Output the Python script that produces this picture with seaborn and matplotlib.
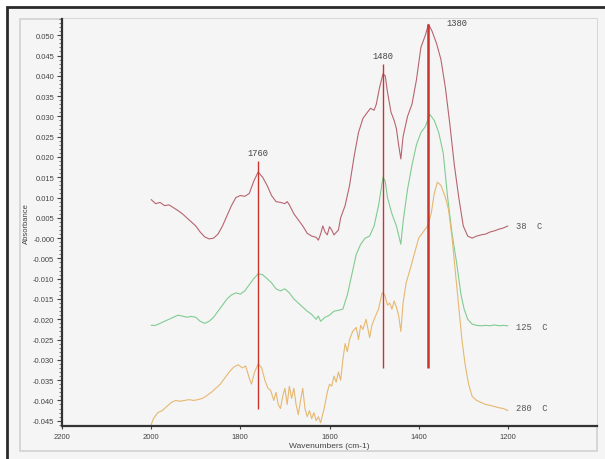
import numpy as np
import pandas as pd
import matplotlib.pyplot as plt
import seaborn as sns
from matplotlib.patches import Rectangle
from matplotlib.ticker import MultipleLocator

# spectra (wavenumber cm-1, absorbance)
wn_38 = [2000, 1990, 1980, 1970, 1960, 1950, 1940, 1930, 1920, 1910, 1900, 1890, 1880, 1870, 1860,
         1850, 1840, 1830, 1820, 1810, 1800, 1790, 1780, 1770, 1760, 1750, 1740, 1730, 1720, 1710,
         1700, 1695, 1690, 1680, 1670, 1660, 1650, 1640, 1630, 1625, 1620, 1615, 1610, 1605, 1600,
         1595, 1590, 1580, 1575, 1565, 1555, 1545, 1535, 1525, 1515, 1508, 1500, 1495, 1488, 1480,
         1475, 1470, 1462, 1455, 1450, 1445, 1440, 1435, 1425, 1415, 1405, 1395, 1385, 1378, 1370,
         1360, 1350, 1340, 1330, 1320, 1310, 1300, 1290, 1280, 1270, 1260, 1250, 1240, 1230, 1220,
         1210, 1200]
abs_38 = [0.0095, 0.0085, 0.0088, 0.0080, 0.0082, 0.0075, 0.0068, 0.0060, 0.0050, 0.0040, 0.0030,
          0.0015, 0.0003, -0.0002, 0.0000, 0.0010, 0.0030, 0.0055, 0.0080, 0.0100, 0.0105, 0.0103,
          0.0110, 0.0140, 0.0163, 0.0150, 0.0130, 0.0105, 0.0090, 0.0088, 0.0085, 0.0090, 0.0082,
          0.0060, 0.0045, 0.0030, 0.0012, 0.0005, 0.0002, -0.0005, 0.0010, 0.0030, 0.0015, 0.0008,
          0.0028, 0.0020, 0.0008, 0.0020, 0.0050, 0.0080, 0.0130, 0.0200, 0.0260, 0.0295, 0.0310,
          0.0320, 0.0315, 0.0330, 0.0370, 0.0405, 0.0400, 0.0360, 0.0310, 0.0290, 0.0270, 0.0230,
          0.0195, 0.0250, 0.0300, 0.0330, 0.0390, 0.0470, 0.0500, 0.0527, 0.0510, 0.0480, 0.0440,
          0.0370, 0.0280, 0.0180, 0.0100, 0.0030, 0.0005, 0.0000, 0.0005, 0.0008, 0.0010, 0.0015,
          0.0018, 0.0022, 0.0025, 0.0030]

wn_125 = [2000, 1990, 1980, 1970, 1960, 1950, 1940, 1930, 1920, 1910, 1900, 1890, 1880, 1870, 1860,
          1850, 1840, 1830, 1820, 1810, 1800, 1790, 1780, 1770, 1760, 1750, 1740, 1730, 1720, 1710,
          1700, 1690, 1680, 1670, 1660, 1650, 1640, 1630, 1625, 1620, 1610, 1600, 1590, 1580, 1570,
          1560, 1550, 1540, 1530, 1520, 1510, 1500, 1490, 1480, 1475, 1470, 1460, 1450, 1440, 1435,
          1425, 1415, 1405, 1395, 1385, 1375, 1365, 1355, 1345, 1335, 1325, 1315, 1305, 1298, 1290,
          1280, 1270, 1260, 1250, 1240, 1230, 1220, 1210, 1200]
abs_125 = [-0.0215, -0.0215, -0.0210, -0.0205, -0.0200, -0.0195, -0.0190, -0.0192, -0.0195, -0.0193,
           -0.0195, -0.0205, -0.0210, -0.0205, -0.0195, -0.0180, -0.0165, -0.0150, -0.0140, -0.0135,
           -0.0138, -0.0130, -0.0115, -0.0100, -0.0088, -0.0090, -0.0100, -0.0110, -0.0125, -0.0130,
           -0.0125, -0.0135, -0.0150, -0.0160, -0.0170, -0.0180, -0.0188, -0.0200, -0.0192, -0.0205,
           -0.0195, -0.0190, -0.0180, -0.0178, -0.0175, -0.0140, -0.0090, -0.0040, -0.0015, 0.0000,
           0.0005, 0.0030, 0.0080, 0.0150, 0.0140, 0.0100, 0.0060, 0.0030, -0.0015, 0.0040, 0.0120,
           0.0180, 0.0230, 0.0260, 0.0275, 0.0305, 0.0290, 0.0260, 0.0210, 0.0100, 0.0010, -0.0060,
           -0.0140, -0.0175, -0.0200, -0.0212, -0.0215, -0.0216, -0.0215, -0.0216, -0.0214, -0.0216,
           -0.0215, -0.0216]

wn_280 = [2000, 1995, 1985, 1975, 1965, 1955, 1945, 1935, 1925, 1915, 1905, 1895, 1885, 1875, 1865,
          1855, 1845, 1835, 1825, 1815, 1805, 1795, 1788, 1780, 1775, 1768, 1760, 1752, 1745, 1738,
          1732, 1725, 1720, 1715, 1710, 1705, 1700, 1695, 1690, 1685, 1680, 1675, 1670, 1665, 1660,
          1655, 1650, 1645, 1640, 1635, 1630, 1625, 1620, 1612, 1605, 1600, 1595, 1590, 1585, 1580,
          1575, 1570, 1565, 1560, 1555, 1548, 1540, 1535, 1530, 1525, 1518, 1510, 1505, 1498, 1490,
          1482, 1476, 1470, 1465, 1460, 1455, 1450, 1445, 1440, 1435, 1428, 1420, 1410, 1400, 1390,
          1380, 1372, 1365, 1358, 1350, 1340, 1333, 1325, 1318, 1310, 1303, 1296, 1288, 1280, 1270,
          1260, 1250, 1240, 1230, 1220, 1210, 1200]
abs_280 = [-0.0460, -0.0445, -0.0430, -0.0425, -0.0415, -0.0405, -0.0400, -0.0402, -0.0400, -0.0398,
           -0.0400, -0.0398, -0.0395, -0.0388, -0.0380, -0.0370, -0.0360, -0.0345, -0.0330, -0.0318,
           -0.0312, -0.0320, -0.0315, -0.0345, -0.0360, -0.0330, -0.0310, -0.0320, -0.0350, -0.0370,
           -0.0375, -0.0400, -0.0380, -0.0410, -0.0420, -0.0390, -0.0370, -0.0410, -0.0365, -0.0395,
           -0.0370, -0.0410, -0.0435, -0.0400, -0.0370, -0.0420, -0.0440, -0.0425, -0.0445, -0.0430,
           -0.0450, -0.0440, -0.0455, -0.0420, -0.0380, -0.0360, -0.0365, -0.0340, -0.0355, -0.0330,
           -0.0350, -0.0300, -0.0260, -0.0280, -0.0250, -0.0230, -0.0220, -0.0250, -0.0215, -0.0225,
           -0.0200, -0.0245, -0.0215, -0.0195, -0.0175, -0.0135, -0.0140, -0.0165, -0.0160, -0.0175,
           -0.0155, -0.0170, -0.0190, -0.0230, -0.0160, -0.0110, -0.0080, -0.0040, 0.0000, 0.0015,
           0.0030, 0.0060, 0.0110, 0.0138, 0.0130, 0.0100, 0.0070, 0.0000, -0.0080, -0.0170, -0.0250,
           -0.0310, -0.0360, -0.0390, -0.0400, -0.0405, -0.0410, -0.0412, -0.0415, -0.0418, -0.0420,
           -0.0425]

series = ['38  C', '125  C', '280  C']
colors = ['#b8646f', '#80cc90', '#e6b870']
label_y = [0.0032, -0.0218, -0.0418]

# marked peaks
peak_wn = [1760, 1480, 1380]
peak_top = [0.0190, 0.0429, 0.0527]
peak_bottom = [-0.0420, -0.0320, -0.0320]
peak_text_x = [1760, 1480, 1315]
peak_text_y = [0.0200, 0.0440, 0.0520]

df = pd.concat([
    pd.DataFrame({'wn': wn_38, 'abs': abs_38, 'temp': series[0]}),
    pd.DataFrame({'wn': wn_125, 'abs': abs_125, 'temp': series[1]}),
    pd.DataFrame({'wn': wn_280, 'abs': abs_280, 'temp': series[2]}),
])

bg = '#f5f5f5'
sns.set_style('white', {'axes.facecolor': bg})
plt.rcParams['font.family'] = ['Liberation Sans', 'DejaVu Sans']

fig = plt.figure(figsize=(6.05, 4.6), dpi=100, facecolor='white')
W, H = 605, 460
# outer dark frame (top and left only visible) and inner light frame
fig.patches.append(Rectangle((7 / W, -0.5), 2.0, 1.5 - 8 / H, transform=fig.transFigure,
                             facecolor=bg, edgecolor='#2a2a2a', linewidth=2.0, zorder=-2))
fig.patches.append(Rectangle((20 / W, 1 - 452 / H), 577 / W, 432 / H, transform=fig.transFigure,
                             facecolor='none', edgecolor='#d2d2d2', linewidth=1.2, zorder=-1))

ax = fig.add_axes([62 / W, 1 - 427 / H, 535 / W, 407 / H])
sns.lineplot(data=df, x='wn', y='abs', hue='temp', palette=dict(zip(series, colors)),
             linewidth=0.8, legend=False, ax=ax)

ax.vlines(peak_wn, peak_bottom, peak_top, colors='#c8342e', linewidth=[1.0, 1.0, 1.8], zorder=3)
for x, y, w in zip(peak_text_x, peak_text_y, peak_wn):
    ax.text(x, y, str(w), ha='center', va='bottom', fontsize=6.3, color='#444444',
            family='Liberation Mono')
for name, y in zip(series, label_y):
    ax.text(1182, y, name, ha='left', va='center', fontsize=6.3, color='#555555',
            family='Liberation Mono')

ax.set_xlim(2200, 1000)
ax.set_xticks([2200, 2000, 1800, 1600, 1400, 1200])
ax.set_yticks(np.arange(-0.045, 0.0501, 0.005))
ax.yaxis.set_minor_locator(MultipleLocator(0.001))
ax.set_ylim(-0.0463, 0.054)
ax.yaxis.set_major_formatter(plt.FuncFormatter(lambda v, p: f'{v:.3f}'))
ax.tick_params(axis='y', which='major', direction='out', length=3.5, width=0.8,
               color='#444444', labelsize=5.5, labelcolor='#444444', pad=2, left=True)
ax.tick_params(axis='y', which='minor', direction='out', length=2, width=0.6,
               color='#666666', left=True)
ax.tick_params(axis='x', direction='out', length=2, width=0.8, color='#444444',
               labelsize=5.5, labelcolor='#444444', pad=3, bottom=True)

for s in ['top', 'right']:
    ax.spines[s].set_visible(False)
for s in ['left', 'bottom']:
    ax.spines[s].set_color('#333333')
    ax.spines[s].set_linewidth(1.6)

ax.set_xlabel('Wavenumbers (cm-1)', fontsize=6, color='#444444', labelpad=1.5)
ax.set_ylabel('Absorbance', fontsize=5.5, color='#444444', labelpad=2)

fig.savefig('out.png', dpi=100, facecolor=fig.get_facecolor())
